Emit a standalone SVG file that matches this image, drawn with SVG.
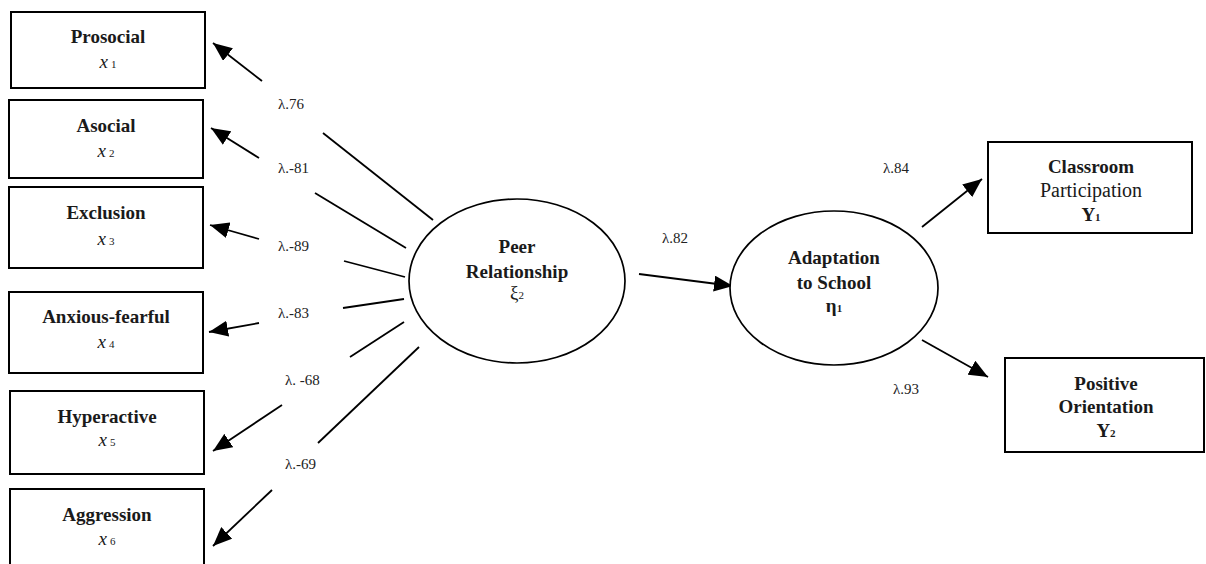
<svg xmlns="http://www.w3.org/2000/svg" width="1206" height="564" viewBox="0 0 1206 564">
<style>
.box{fill:#fff;stroke:#000;stroke-width:2}
.ell{fill:#fff;stroke:#000;stroke-width:1.7}
.ln{stroke:#000;stroke-width:1.8;fill:none}
.t{font-family:"Liberation Serif","DejaVu Serif",serif;fill:#1a1a1a;text-anchor:middle}
.b{font-weight:bold;font-size:19px}
.r{font-weight:normal;font-size:20px}
.v{font-style:italic;font-size:19px}
.s{font-style:normal;font-size:11px}
.lab{font-family:"Liberation Serif","DejaVu Serif",serif;font-weight:normal;font-size:15px;fill:#222}
</style>
<defs>
<marker id="ah" markerUnits="userSpaceOnUse" markerWidth="20" markerHeight="16" refX="19" refY="8" orient="auto">
<path d="M0,0 L19,8 L0,16 z" fill="#000"/>
</marker>
</defs>
<rect width="1206" height="564" fill="#fff"/>

<g id="connectors">
<line class="ln" x1="262" y1="81" x2="213" y2="43" marker-end="url(#ah)"/>
<line class="ln" x1="323" y1="133" x2="433" y2="220"/>
<line class="ln" x1="259" y1="158" x2="211" y2="128" marker-end="url(#ah)"/>
<line class="ln" x1="315" y1="193" x2="406" y2="248"/>
<line class="ln" x1="259" y1="239" x2="210" y2="225" marker-end="url(#ah)"/>
<line class="ln" x1="344" y1="261" x2="405" y2="277"/>
<line class="ln" x1="259" y1="323" x2="209" y2="332" marker-end="url(#ah)"/>
<line class="ln" x1="343" y1="308" x2="404" y2="299"/>
<line class="ln" x1="282" y1="405" x2="213" y2="451" marker-end="url(#ah)"/>
<line class="ln" x1="350" y1="357" x2="404" y2="322"/>
<line class="ln" x1="272" y1="490" x2="213" y2="546" marker-end="url(#ah)"/>
<line class="ln" x1="318" y1="443" x2="419" y2="347"/>
<line class="ln" x1="639" y1="274" x2="733" y2="286" marker-end="url(#ah)"/>
<line class="ln" x1="922" y1="227" x2="982" y2="179" marker-end="url(#ah)"/>
<line class="ln" x1="922" y1="340" x2="988" y2="377" marker-end="url(#ah)"/>
<text class="lab" x="278" y="109">λ.76</text>
<text class="lab" x="278" y="173">λ.-81</text>
<text class="lab" x="278" y="251">λ.-89</text>
<text class="lab" x="278" y="318">λ.-83</text>
<text class="lab" x="285" y="385">λ. -68</text>
<text class="lab" x="285" y="469">λ.-69</text>
<text class="lab" x="662" y="243">λ.82</text>
<text class="lab" x="883" y="173">λ.84</text>
<text class="lab" x="893" y="394">λ.93</text>
</g>

<g id="prosocial">
<rect class="box" x="11" y="12" width="194" height="76"/>
<text class="t b" x="108" y="43">Prosocial</text>
<text class="t v" x="108" y="68">x<tspan class="s" dx="3">1</tspan></text>
</g>
<g id="asocial">
<rect class="box" x="9" y="100" width="194" height="78"/>
<text class="t b" x="106" y="132">Asocial</text>
<text class="t v" x="106" y="157">x<tspan class="s" dx="3">2</tspan></text>
</g>
<g id="exclusion">
<rect class="box" x="9" y="187" width="194" height="81"/>
<text class="t b" x="106" y="219">Exclusion</text>
<text class="t v" x="106" y="245">x<tspan class="s" dx="3">3</tspan></text>
</g>
<g id="anxious">
<rect class="box" x="9" y="292" width="194" height="81"/>
<text class="t b" x="106" y="323">Anxious-fearful</text>
<text class="t v" x="106" y="348">x<tspan class="s" dx="3">4</tspan></text>
</g>
<g id="hyperactive">
<rect class="box" x="10" y="391" width="194" height="83"/>
<text class="t b" x="107" y="423">Hyperactive</text>
<text class="t v" x="107" y="446">x<tspan class="s" dx="3">5</tspan></text>
</g>
<g id="aggression">
<rect class="box" x="10" y="489" width="194" height="80"/>
<text class="t b" x="107" y="521">Aggression</text>
<text class="t v" x="107" y="545">x<tspan class="s" dx="3">6</tspan></text>
</g>

<g id="peer">
<ellipse class="ell" cx="517" cy="281" rx="108" ry="82"/>
<text class="t b" x="517" y="253">Peer</text>
<text class="t b" x="517" y="278">Relationship</text>
<text class="t r" x="517" y="299" style="font-size:19px">ξ<tspan class="s">2</tspan></text>
</g>
<g id="adaptation">
<ellipse class="ell" cx="834" cy="288" rx="104" ry="77"/>
<text class="t b" x="834" y="264">Adaptation</text>
<text class="t b" x="834" y="289">to School</text>
<text class="t b" x="834" y="312">η<tspan class="s" style="font-weight:bold">1</tspan></text>
</g>
<g id="classroom">
<rect class="box" x="988" y="142" width="204" height="91"/>
<text class="t b" x="1091" y="173">Classroom</text>
<text class="t r" x="1091" y="197">Participation</text>
<text class="t b" x="1091" y="221">Y<tspan class="s" style="font-weight:bold">1</tspan></text>
</g>
<g id="positive">
<rect class="box" x="1005" y="358" width="199" height="94"/>
<text class="t b" x="1106" y="390">Positive</text>
<text class="t b" x="1106" y="413">Orientation</text>
<text class="t b" x="1106" y="437">Y<tspan class="s" style="font-weight:bold">2</tspan></text>
</g>
</svg>
